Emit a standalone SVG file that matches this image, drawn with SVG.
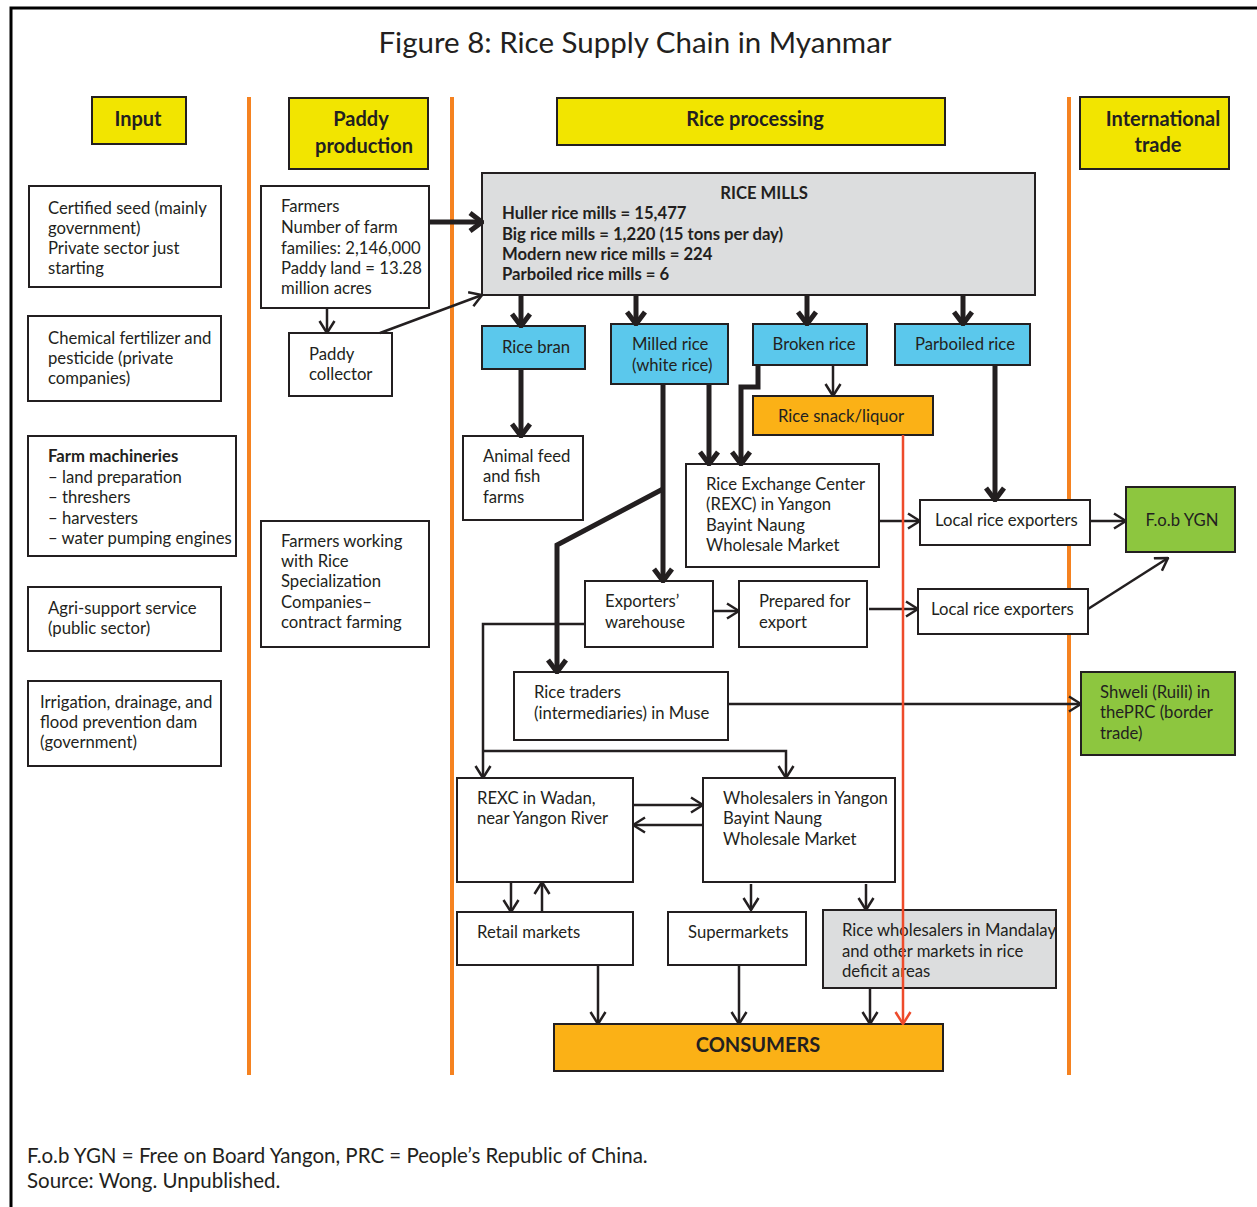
<svg xmlns="http://www.w3.org/2000/svg" width="1257" height="1207" viewBox="0 0 1257 1207">
<style>
text{font-family:Lato,"Open Sans","Liberation Sans",sans-serif;fill:#231F20;font-size:16.7px}
.b{font-weight:bold}
.hd{font-weight:bold;font-size:20px;text-anchor:middle}
.c{text-anchor:middle}
.box{fill:#fff;stroke:#231F20;stroke-width:2}
.yel{fill:#F2E500;stroke:#231F20;stroke-width:2}
.cy{fill:#5BC8EC;stroke:#231F20;stroke-width:2}
.or{fill:#FBB116;stroke:#231F20;stroke-width:2}
.gr{fill:#8DC63F;stroke:#231F20;stroke-width:2}
.gy{fill:#DCDDDE;stroke:#231F20;stroke-width:2}
.thin{fill:none;stroke:#231F20;stroke-width:2.5;marker-end:url(#a)}
.thk{fill:none;stroke:#231F20;stroke-width:5;marker-end:url(#A)}
.div{stroke:#F58220;stroke-width:4}
</style>
<defs>
<marker id="a" markerUnits="userSpaceOnUse" viewBox="0 0 14 18" refX="13" refY="9" markerWidth="14" markerHeight="18" orient="auto">
<path d="M1,1.5 L13,9 L1,16.5" fill="none" stroke="#231F20" stroke-width="2.5"/>
</marker>
<marker id="A" markerUnits="userSpaceOnUse" viewBox="0 0 16 22" refX="14" refY="11" markerWidth="16" markerHeight="22" orient="auto">
<path d="M2,2 L14,11 L2,20" fill="none" stroke="#231F20" stroke-width="5"/>
</marker>
<marker id="r" markerUnits="userSpaceOnUse" viewBox="0 0 14 18" refX="13" refY="9" markerWidth="14" markerHeight="18" orient="auto">
<path d="M1,1.5 L13,9 L1,16.5" fill="none" stroke="#EE4B2B" stroke-width="2.5"/>
</marker>
</defs>
<rect width="1257" height="1207" fill="#fff"/>
<path d="M11,1207 V8 H1257" fill="none" stroke="#000" stroke-width="3"/>
<text x="635" y="53" class="c" style="font-size:29.5px">Figure 8: Rice Supply Chain in Myanmar</text>

<g id="dividers">
<line class="div" x1="249" y1="97" x2="249" y2="1075"/>
<line class="div" x1="452" y1="97" x2="452" y2="1075"/>
<line class="div" x1="1069" y1="97" x2="1069" y2="1075"/>
</g>

<g id="h-input"><rect class="yel" x="92" y="97" width="94" height="47"/><text x="138" y="126" class="hd">Input</text></g>
<g id="h-paddy"><rect class="yel" x="289" y="98" width="139" height="71"/><text x="361" y="126" class="hd">Paddy</text><text x="364" y="153" class="hd">production</text></g>
<g id="h-proc"><rect class="yel" x="557" y="98" width="388" height="47"/><text x="755" y="126" class="hd">Rice processing</text></g>
<g id="h-trade"><rect class="yel" x="1080" y="97" width="149" height="72"/><text x="1163" y="126" class="hd">International</text><text x="1158" y="152" class="hd">trade</text></g>

<g id="n-seed"><rect class="box" x="29" y="186" width="192" height="101"/>
<text x="48" y="214">Certified seed (mainly</text><text x="48" y="234">government)</text><text x="48" y="254">Private sector just</text><text x="48" y="274">starting</text></g>
<g id="n-fert"><rect class="box" x="28" y="316" width="193" height="85"/>
<text x="48" y="344">Chemical fertilizer and</text><text x="48" y="364">pesticide (private</text><text x="48" y="384">companies)</text></g>
<g id="n-mach"><rect class="box" x="28" y="436" width="208" height="120"/>
<text x="48" y="462" class="b">Farm machineries</text><text x="48" y="483">– land preparation</text><text x="48" y="503">– threshers</text><text x="48" y="524">– harvesters</text><text x="48" y="544">– water pumping engines</text></g>
<g id="n-agri"><rect class="box" x="28" y="587" width="193" height="64"/>
<text x="48" y="614">Agri-support service</text><text x="48" y="634">(public sector)</text></g>
<g id="n-irr"><rect class="box" x="28" y="681" width="193" height="85"/>
<text x="40" y="708">Irrigation, drainage, and</text><text x="40" y="728">flood prevention dam</text><text x="40" y="748">(government)</text></g>

<g id="n-farmers"><rect class="box" x="261" y="186" width="168" height="122"/>
<text x="281" y="212">Farmers</text><text x="281" y="233">Number of farm</text><text x="281" y="254">families: 2,146,000</text><text x="281" y="274">Paddy land = 13.28</text><text x="281" y="294">million acres</text></g>
<g id="n-collector"><rect class="box" x="289" y="333" width="103" height="63"/>
<text x="309" y="360">Paddy</text><text x="309" y="380">collector</text></g>
<g id="n-contract"><rect class="box" x="261" y="521" width="168" height="126"/>
<text x="281" y="547">Farmers working</text><text x="281" y="567">with Rice</text><text x="281" y="587">Specialization</text><text x="281" y="608">Companies–</text><text x="281" y="628">contract farming</text></g>

<g id="n-mills"><rect class="gy" x="482" y="173" width="553" height="122"/>
<text x="764" y="199" class="c b">RICE MILLS</text>
<text x="502" y="219" class="b">Huller rice mills = 15,477</text>
<text x="502" y="240" class="b">Big rice mills = 1,220 (15 tons per day)</text>
<text x="502" y="260" class="b">Modern new rice mills = 224</text>
<text x="502" y="280" class="b">Parboiled rice mills = 6</text></g>

<g id="n-bran"><rect class="cy" x="482" y="326" width="103" height="43"/><text x="536" y="353" class="c">Rice bran</text></g>
<g id="n-milled"><rect class="cy" x="611" y="324" width="117" height="60"/><text x="632" y="350">Milled rice</text><text x="632" y="371">(white rice)</text></g>
<g id="n-broken"><rect class="cy" x="753" y="324" width="114" height="41"/><text x="814" y="350" class="c">Broken rice</text></g>
<g id="n-parboiled"><rect class="cy" x="895" y="324" width="135" height="41"/><text x="965" y="350" class="c">Parboiled rice</text></g>
<g id="n-snack"><rect class="or" x="753" y="396" width="180" height="39"/><text x="841" y="422" class="c">Rice snack/liquor</text></g>
<g id="n-feed"><rect class="box" x="463" y="436" width="120" height="84"/><text x="483" y="462">Animal feed</text><text x="483" y="482">and fish</text><text x="483" y="503">farms</text></g>
<g id="n-rexc"><rect class="box" x="686" y="464" width="193" height="103"/>
<text x="706" y="490">Rice Exchange Center</text><text x="706" y="510">(REXC) in Yangon</text><text x="706" y="531">Bayint Naung</text><text x="706" y="551">Wholesale Market</text></g>
<g id="n-lre1"><rect class="box" x="920" y="500" width="170" height="45"/><text x="935" y="526">Local rice exporters</text></g>
<g id="n-fob"><rect class="gr" x="1126" y="487" width="109" height="65"/><text x="1182" y="526" class="c">F.o.b YGN</text></g>
<g id="n-warehouse"><rect class="box" x="585" y="581" width="128" height="66"/><text x="605" y="607">Exporters’</text><text x="605" y="628">warehouse</text></g>
<g id="n-prepared"><rect class="box" x="739" y="581" width="128" height="66"/><text x="759" y="607">Prepared for</text><text x="759" y="628">export</text></g>
<g id="n-lre2"><rect class="box" x="918" y="589" width="170" height="45"/><text x="931" y="615">Local rice exporters</text></g>
<g id="n-traders"><rect class="box" x="514" y="672" width="214" height="68"/><text x="534" y="698">Rice traders</text><text x="534" y="719">(intermediaries) in Muse</text></g>
<g id="n-shweli"><rect class="gr" x="1081" y="672" width="154" height="83"/><text x="1100" y="698">Shweli (Ruili) in</text><text x="1100" y="718">thePRC (border</text><text x="1100" y="739">trade)</text></g>
<g id="n-wadan"><rect class="box" x="457" y="778" width="176" height="104"/><text x="477" y="804">REXC in Wadan,</text><text x="477" y="824">near Yangon River</text></g>
<g id="n-wholesalers"><rect class="box" x="703" y="778" width="192" height="104"/><text x="723" y="804">Wholesalers in Yangon</text><text x="723" y="824">Bayint Naung</text><text x="723" y="845">Wholesale Market</text></g>
<g id="n-retail"><rect class="box" x="457" y="912" width="176" height="53"/><text x="477" y="938">Retail markets</text></g>
<g id="n-super"><rect class="box" x="668" y="912" width="138" height="53"/><text x="688" y="938">Supermarkets</text></g>
<g id="n-mandalay"><rect class="gy" x="823" y="910" width="233" height="78"/><text x="842" y="936">Rice wholesalers in Mandalay</text><text x="842" y="957">and other markets in rice</text><text x="842" y="977">deficit areas</text></g>
<g id="n-consumers"><rect class="or" x="554" y="1024" width="389" height="47"/><text x="758" y="1052" class="c b" style="font-size:20px">CONSUMERS</text></g>

<g id="connectors">
<path class="thk" d="M429,222 H482"/>
<path class="thk" d="M521,295 V326"/>
<path class="thk" d="M636,295 V324"/>
<path class="thk" d="M807,295 V324"/>
<path class="thk" d="M963,295 V324"/>
<path class="thk" d="M521,369 V436"/>
<path class="thk" d="M663,384 V581"/>
<path class="thk" d="M709,384 V464"/>
<path class="thk" d="M758,365 V387 H741 V464"/>
<path class="thk" d="M995,365 V500"/>
<path class="thk" d="M663,489 L557,545 V672"/>
<path class="thin" d="M833,365 V396"/>
<path class="thin" d="M380,333 L482,295"/>
<path class="thin" d="M327,308 V333"/>
<path class="thin" d="M879,521 H920"/>
<path class="thin" d="M713,611 H739"/>
<path class="thin" d="M869,609 H918"/>
<path class="thin" d="M1090,521 H1126"/>
<path class="thin" d="M1088,609 L1168,558"/>
<path class="thin" d="M728,704 H1081"/>
<path class="thin" d="M585,624 H483 V778"/>
<path class="thin" d="M483,751 H786 V778"/>
<path class="thin" d="M633,805 H703"/>
<path class="thin" d="M703,825 H633"/>
<path class="thin" d="M511,882 V912"/>
<path class="thin" d="M542,912 V882"/>
<path class="thin" d="M751,884 V910"/>
<path class="thin" d="M866,884 V910"/>
<path class="thin" d="M598,965 V1024"/>
<path class="thin" d="M739,965 V1024"/>
<path class="thin" d="M870,988 V1024"/>
<path d="M903,435 V1024" fill="none" stroke="#EE4B2B" stroke-width="2.5" marker-end="url(#r)"/>
</g>

<text x="27" y="1163" style="font-size:20.5px">F.o.b YGN = Free on Board Yangon, PRC = People’s Republic of China.</text>
<text x="27" y="1188" style="font-size:20.5px">Source: Wong. Unpublished.</text>
</svg>
